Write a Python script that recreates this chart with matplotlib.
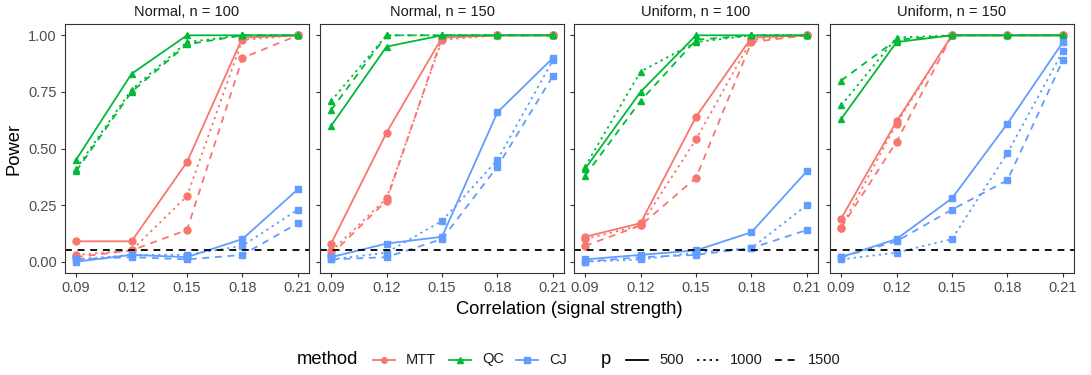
import numpy as np
import matplotlib
matplotlib.use("Agg")
import matplotlib.pyplot as plt
from matplotlib.lines import Line2D

plt.rcParams['font.family'] = ['Liberation Sans', 'DejaVu Sans']

corr = [0.09, 0.12, 0.15, 0.18, 0.21]
panels = ["Normal, n = 100", "Normal, n = 150", "Uniform, n = 100", "Uniform, n = 150"]
methods = ["MTT", "QC", "CJ"]
p_levels = ["500", "1000", "1500"]

# power values: rows = p (500, 1000, 1500)
mtt_normal_100 = [[0.09, 0.09, 0.44, 0.99, 1.00],
                  [0.03, 0.05, 0.29, 0.98, 1.00],
                  [0.02, 0.05, 0.14, 0.90, 1.00]]
qc_normal_100 = [[0.45, 0.83, 1.00, 1.00, 1.00],
                 [0.41, 0.76, 0.97, 1.00, 1.00],
                 [0.40, 0.75, 0.96, 1.00, 1.00]]
cj_normal_100 = [[0.00, 0.03, 0.02, 0.10, 0.32],
                 [0.01, 0.03, 0.03, 0.07, 0.23],
                 [0.01, 0.02, 0.01, 0.03, 0.17]]

mtt_normal_150 = [[0.08, 0.57, 0.99, 1.00, 1.00],
                  [0.045, 0.28, 0.98, 1.00, 1.00],
                  [0.03, 0.27, 0.99, 1.00, 1.00]]
qc_normal_150 = [[0.60, 0.95, 1.00, 1.00, 1.00],
                 [0.71, 1.00, 1.00, 1.00, 1.00],
                 [0.67, 1.00, 1.00, 1.00, 1.00]]
cj_normal_150 = [[0.02, 0.08, 0.11, 0.66, 0.90],
                 [0.01, 0.04, 0.18, 0.45, 0.89],
                 [0.01, 0.02, 0.10, 0.42, 0.82]]

mtt_uniform_100 = [[0.11, 0.17, 0.64, 0.99, 1.00],
                   [0.10, 0.16, 0.54, 0.98, 1.00],
                   [0.07, 0.16, 0.37, 0.97, 1.00]]
qc_uniform_100 = [[0.41, 0.75, 1.00, 1.00, 1.00],
                  [0.42, 0.84, 0.97, 1.00, 1.00],
                  [0.38, 0.71, 0.98, 1.00, 1.00]]
cj_uniform_100 = [[0.01, 0.03, 0.05, 0.13, 0.40],
                  [0.00, 0.01, 0.04, 0.06, 0.25],
                  [0.00, 0.02, 0.03, 0.06, 0.14]]

mtt_uniform_150 = [[0.19, 0.62, 1.00, 1.00, 1.00],
                   [0.15, 0.61, 1.00, 1.00, 1.00],
                   [0.15, 0.53, 1.00, 1.00, 1.00]]
qc_uniform_150 = [[0.63, 0.97, 1.00, 1.00, 1.00],
                  [0.69, 0.99, 1.00, 1.00, 1.00],
                  [0.80, 0.98, 1.00, 1.00, 1.00]]
cj_uniform_150 = [[0.02, 0.10, 0.28, 0.61, 0.97],
                  [0.01, 0.04, 0.10, 0.48, 0.93],
                  [0.02, 0.09, 0.23, 0.36, 0.89]]

panel_data = [
    [mtt_normal_100, qc_normal_100, cj_normal_100],
    [mtt_normal_150, qc_normal_150, cj_normal_150],
    [mtt_uniform_100, qc_uniform_100, cj_uniform_100],
    [mtt_uniform_150, qc_uniform_150, cj_uniform_150],
]

colors = {"MTT": "#F8766D", "QC": "#00BA38", "CJ": "#619CFF"}
markers = {"MTT": "o", "QC": "^", "CJ": "s"}
styles = {"500": "-", "1000": (0, (1.3, 2.2)), "1500": (0, (3.8, 3.2))}

W, H = 1091, 375
fig = plt.figure(figsize=(W / 100, H / 100), dpi=100)

lefts = [65, 320, 574, 830]
pw = 244
top, bottom = 24, 273

for i, left in enumerate(lefts):
    ax = fig.add_axes([left / W, 1 - bottom / H, pw / W, (bottom - top) / H])
    for m, series in zip(methods, panel_data[i]):
        for p, vals in zip(p_levels, series):
            ax.plot(corr, vals, color=colors[m], linestyle=styles[p], lw=1.3,
                    marker=markers[m], markersize=5, dash_capstyle='butt')
    ax.axhline(0.05, color='black', linestyle=(0, (3.8, 3.2)), lw=1.3)
    ax.set_xlim(0.09 - 0.006, 0.21 + 0.006)
    ax.set_ylim(-0.05, 1.05)
    ax.set_xticks(corr)
    ax.set_xticklabels(["0.09", "0.12", "0.15", "0.18", "0.21"])
    ax.set_yticks([0, 0.25, 0.5, 0.75, 1.0])
    if i == 0:
        ax.set_yticklabels(["0.00", "0.25", "0.50", "0.75", "1.00"])
        ax.set_ylabel("Power", fontsize=13.2, color='black', labelpad=4)
    else:
        ax.set_yticklabels([])
    ax.tick_params(direction='out', length=3, width=0.8, colors='#333333',
                   labelcolor='#4D4D4D', labelsize=10.5, pad=3)
    for s in ax.spines.values():
        s.set_color('#333333')
        s.set_linewidth(0.8)
    ax.set_title(panels[i], fontsize=10.5, color='#1A1A1A', pad=6)

fig.text((65 + 1074) / 2 / W, 1 - 309 / H, "Correlation (signal strength)",
         ha='center', va='center', fontsize=13.2)

# legend drawn by hand, ggplot-style horizontal layout
ly = 1 - 359.5 / H


def key(x0, label, color, ls, marker=None):
    x1 = x0 + 22
    fig.add_artist(Line2D([x0 / W, x1 / W], [ly, ly], transform=fig.transFigure,
                          color=color, linestyle=ls, lw=1.3))
    if marker:
        fig.add_artist(Line2D([(x0 + x1) / 2 / W], [ly], transform=fig.transFigure,
                              color=color, marker=marker, markersize=4, lw=0))
    fig.text((x1 + 11) / W, ly, label, ha='left', va='center', fontsize=10.5,
             color='#1A1A1A')


fig.text(297 / W, ly, "method", ha='left', va='center', fontsize=13.2)
for x0, m in zip([373, 449, 516], methods):
    key(x0, m, colors[m], '-', markers[m])
fig.text(601 / W, ly, "p", ha='left', va='center', fontsize=13.2)
for x0, p in zip([626, 697, 775], p_levels):
    key(x0, p, 'black', styles[p])

fig.savefig("out.png", dpi=100)
